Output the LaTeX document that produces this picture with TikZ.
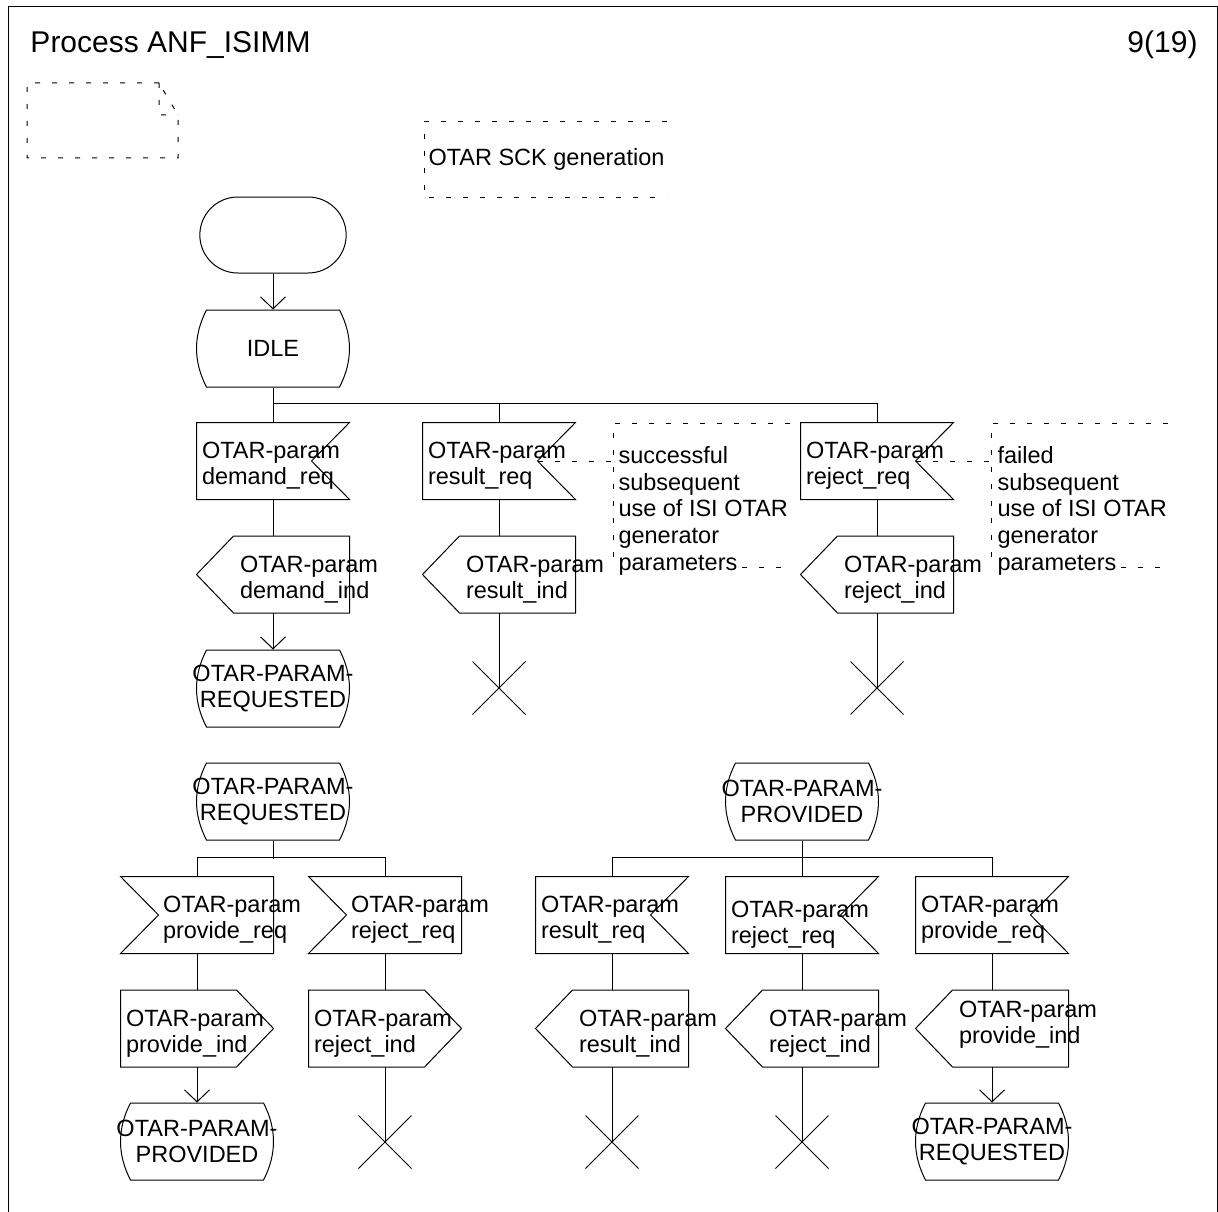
\documentclass[tikz,border=0pt]{standalone}
\usepackage{fontspec}
\setmainfont{Liberation Sans}
\usetikzlibrary{shapes.misc,arrows.meta}
\exhyphenpenalty=10000
\newcommand{\sdlfont}{\fontsize{23.5pt}{26pt}\selectfont}
\newcommand{\notefont}{\fontsize{23.5pt}{26.7pt}\selectfont}
\newcommand{\headfont}{\fontsize{30pt}{36pt}\selectfont}
\tikzset{
  sig/.style={minimum width=152pt, minimum height=76pt, inner xsep=5pt, inner ysep=0pt, text width=142pt, text height=26pt, align=left, font=\sdlfont},
  ind/.style={execute at begin node={\leftskip=#1}},
  state/.style={minimum width=153pt, minimum height=77pt, inner sep=0pt, align=center, font=\sdlfont},
  stopx/.style={cross out, draw, minimum size=52pt, inner sep=0pt},
  note/.style={anchor=north west, inner sep=0pt, align=left, font=\notefont},
  cmt/.style={dash pattern=on 5pt off 12pt},
  flow/.style={-{Straight Barb[length=12pt,width=25pt]}}
}
\begin{document}
\begin{tikzpicture}[x=1pt, y=-1pt, line width=1pt]
\useasboundingbox (0,0) rectangle (1218,1212);
\draw (8,1212) -- (8,7) -- (1217,7) -- (1217,1212);
\node[anchor=base west, inner sep=0pt, font=\headfont] (title) at (30,53) {Process ANF\_ISIMM};
\node[anchor=base east, inner sep=0pt, font=\headfont] (page) at (1198,53) {9(19)};

\draw[cmt] (159,83) -- (27,83) -- (27,158) -- (178,158) -- (178,115) -- cycle (159,83) -- (159,115) -- (178,115);
\draw[cmt] (667,122) -- (424,122) -- (424,197) -- (667,197);
\node[anchor=base west, inner sep=0pt, font=\sdlfont] (task) at (428,165) {OTAR SCK generation};

\node[draw, rounded rectangle, minimum width=153pt, minimum height=76pt] (start) at (273,235) {};
\node[state] (idle) at (273,348.5) {IDLE};

\node[sig] (dreq) at (273,461) {OTAR-param\\demand\_req};
\node[sig] (rreq) at (499,461) {OTAR-param\\result\_req};
\node[sig] (jreq) at (877,461) {OTAR-param\\reject\_req};
\node[sig, ind=38pt] (dind) at (273,574.5) {OTAR-param\\demand\_ind};
\node[sig, ind=38pt] (rind) at (499,574.5) {OTAR-param\\result\_ind};
\node[sig, ind=38pt] (jind) at (877,574.5) {OTAR-param\\reject\_ind};
\node[state] (reqd) at (273,688.5) {OTAR-PARAM-\\REQUESTED};
\node[stopx] (stop1) at (499,688) {};
\node[stopx] (stop2) at (877,688) {};

\node[note] (succ) at (618,446) {successful\\subsequent\\use of ISI OTAR\\generator\\parameters};
\node[note] (fail) at (997,446) {failed\\subsequent\\use of ISI OTAR\\generator\\parameters};
\coordinate (succin) at (613,461);
\coordinate (failin) at (991,461);

\node[state] (reqa) at (273,801.5) {OTAR-PARAM-\\REQUESTED};
\node[sig, ind=37pt] (preqa) at (197,915) {OTAR-param\\provide\_req};
\node[sig, ind=37pt] (jreqa) at (385,915) {OTAR-param\\reject\_req};
\node[sig] (pinda) at (197,1028.5) {OTAR-param\\provide\_ind};
\node[sig] (jinda) at (385,1028.5) {OTAR-param\\reject\_ind};
\node[state] (prova) at (197,1141.5) {OTAR-PARAM-\\PROVIDED};
\node[stopx] (stop3) at (385,1142) {};

\node[state] (provb) at (802,801.5) {OTAR-PARAM-\\PROVIDED};
\node[sig] (rreqb) at (612,915) {OTAR-param\\result\_req};
\node[sig, text height=36pt] (jreqb) at (802,915) {OTAR-param\\reject\_req};
\node[sig] (preqb) at (992,915) {OTAR-param\\provide\_req};
\node[sig, ind=38pt] (rindb) at (612,1028.5) {OTAR-param\\result\_ind};
\node[sig, ind=38pt] (jindb) at (802,1028.5) {OTAR-param\\reject\_ind};
\node[sig, ind=38pt, text height=9pt] (pindb) at (992,1028.5) {OTAR-param\\provide\_ind};
\node[stopx] (stop4) at (612,1142) {};
\node[stopx] (stop5) at (802,1142) {};
\node[state] (reqb) at (992,1141.5) {OTAR-PARAM-\\REQUESTED};

% symbol outlines
\foreach \n in {dreq,rreq,jreq,rreqb,jreqb,preqb}
  \draw (\n.north west) -- (\n.north east) -- ([xshift=-38pt]\n.east) -- (\n.south east) -- (\n.south west) -- cycle;
\foreach \n in {preqa,jreqa}
  \draw (\n.north west) -- (\n.north east) -- (\n.south east) -- (\n.south west) -- ([xshift=38pt]\n.west) -- cycle;
\foreach \n in {dind,rind,jind,rindb,jindb,pindb}
  \draw ([xshift=37pt]\n.north west) -- (\n.north east) -- (\n.south east) -- ([xshift=37pt]\n.south west) -- (\n.west) -- cycle;
\foreach \n in {pinda,jinda}
  \draw (\n.north west) -- ([xshift=-37pt]\n.north east) -- (\n.east) -- ([xshift=-37pt]\n.south east) -- (\n.south west) -- cycle;
\foreach \n in {idle,reqd,reqa,prova,provb,reqb}
  \draw[shift={(\n.center)}] (-66.5,-38.5) -- (66.5,-38.5) .. controls (79.8,-13) and (79.8,13) .. (66.5,38.5)
    -- (-66.5,38.5) .. controls (-79.8,13) and (-79.8,-13) .. (-66.5,-38.5) -- cycle;

\draw[flow] (start) -- (idle);
\draw (idle) -- (dreq);
\draw (dreq.north) -- ++(0,-19) -| (jreq.north);
\draw (rreq.north) -- ++(0,-19);
\draw (dreq) -- (dind);
\draw (rreq) -- (rind);
\draw (jreq) -- (jind);
\draw[flow] (dind) -- (reqd);
\draw (rind) -- (stop1.center);
\draw (jind) -- (stop2.center);
\draw[cmt] ([xshift=-38pt]rreq.east) -- (succin);
\draw[cmt] ([xshift=-38pt]jreq.east) -- (failin);
\draw[cmt] (790,423) -| (613,567) (742,567) -- (790,567);
\draw[cmt] (1168,423) -| (991,567) (1121,567) -- (1168,567);

\draw (reqa.south) -- ++(0,18);
\draw (preqa.north) -- ++(0,-19) -| (jreqa.north);
\draw (preqa) -- (pinda);
\draw (jreqa) -- (jinda);
\draw[flow] (pinda) -- (prova);
\draw (jinda) -- (stop3.center);

\draw (provb) -- (jreqb);
\draw (rreqb.north) -- ++(0,-19) -| (preqb.north);
\draw (rreqb) -- (rindb);
\draw (jreqb) -- (jindb);
\draw (preqb) -- (pindb);
\draw (rindb) -- (stop4.center);
\draw (jindb) -- (stop5.center);
\draw[flow] (pindb) -- (reqb);
\end{tikzpicture}
\end{document}
